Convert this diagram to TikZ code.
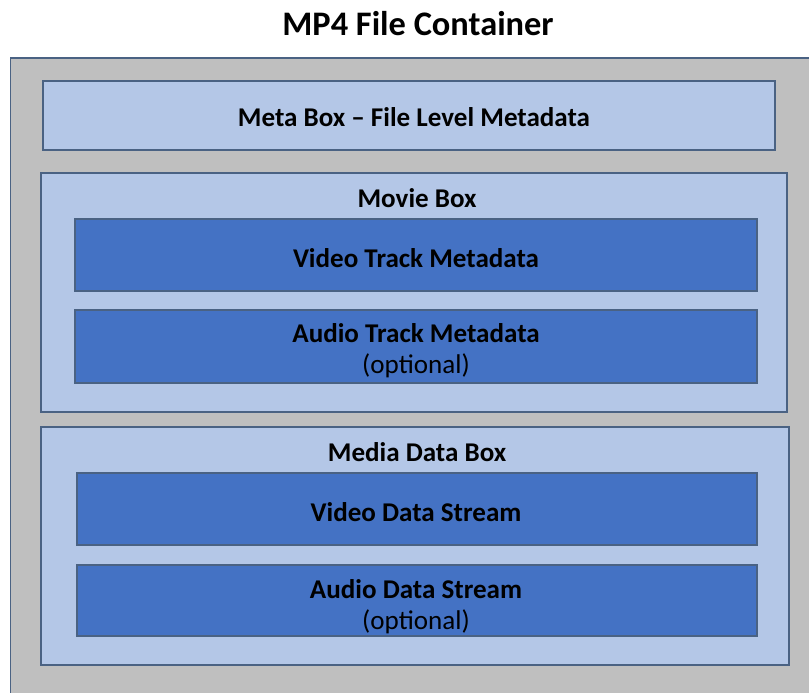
\documentclass[tikz,border=0pt]{standalone}
\usepackage{fontspec}
\setmainfont{Carlito}
\definecolor{outergray}{HTML}{BFBFBF}
\definecolor{lightblue}{HTML}{B4C7E7}
\definecolor{darkblue}{HTML}{4472C4}
\definecolor{edgeblue}{HTML}{4A6283}
\tikzset{
  container/.style={draw=edgeblue, line width=1.2pt, fill=outergray},
  lightbox/.style={draw=edgeblue, line width=1pt, fill=lightblue, inner sep=0pt},
  darkbox/.style={draw=edgeblue, line width=1pt, fill=darkblue, inner sep=0pt},
  lbl/.style={font=\bfseries\fontsize{20.3}{24}\selectfont, text=black, align=center},
  opt/.style={font=\fontsize{20.3}{24}\selectfont, text=black}
}
\begin{document}
\begin{tikzpicture}[x=0.75pt,y=-0.75pt]
\useasboundingbox (0,0) rectangle (809,692);
\begin{scope}
\clip (0,0) rectangle (809,692);
\draw[container] (10.5,58) rectangle (830,710);
\end{scope}
\node[font=\bfseries\fontsize{25.8}{30}\selectfont] (title) at (418,24) {MP4 File Container};
% Meta box
\draw[lightbox] (43,81) rectangle (775,150);
\node[lbl] (meta) at (414,117) {Meta Box -- File Level Metadata};
% Movie box
\draw[lightbox] (41,173) rectangle (787,412);
\node[lbl] (movie) at (417,198) {Movie Box};
\draw[darkbox] (75,219) rectangle (757,291);
\node[lbl] (vtm) at (416,258) {Video Track Metadata};
\draw[darkbox] (75,310) rectangle (757,383);
\node[lbl] (atm) at (416,333) {Audio Track Metadata};
\node[opt] (atmo) at (416,366) {(optional)};
% Media data box
\draw[lightbox] (41,427) rectangle (789,665);
\node[lbl] (mdat) at (417,452) {Media Data Box};
\draw[darkbox] (77,473) rectangle (757,545);
\node[lbl] (vds) at (416,512) {Video Data Stream};
\draw[darkbox] (77,565) rectangle (757,636);
\node[lbl] (ads) at (416,589) {Audio Data Stream};
\node[opt] (adso) at (416,622) {(optional)};
\end{tikzpicture}
\end{document}
